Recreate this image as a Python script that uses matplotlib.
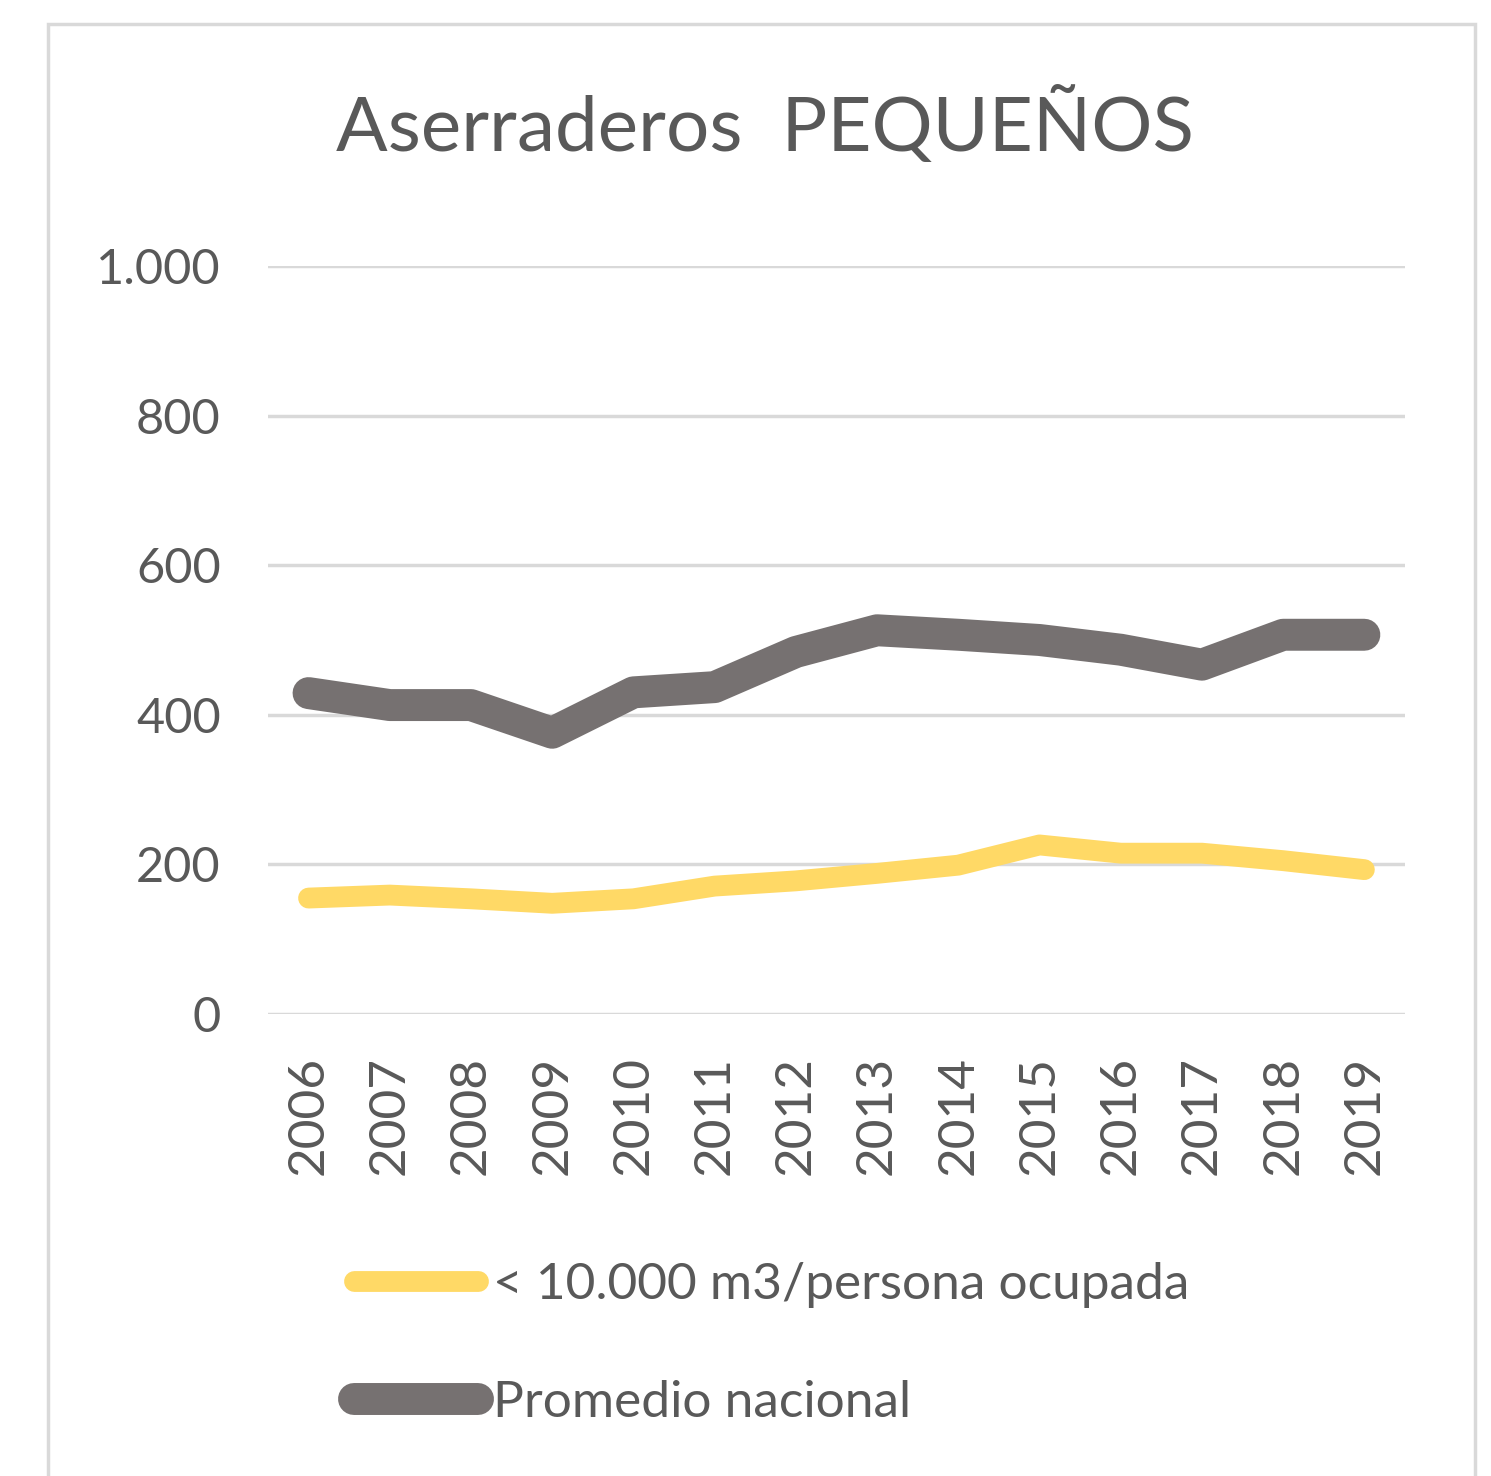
import matplotlib.pyplot as plt
from matplotlib.lines import Line2D
from matplotlib.patches import Rectangle

plt.rcParams['font.family'] = ['Lato', 'DejaVu Sans']

# datos
anios = ['2006', '2007', '2008', '2009', '2010', '2011', '2012',
         '2013', '2014', '2015', '2016', '2017', '2018', '2019']
pequenos = [155, 159, 154, 148, 154, 171, 178, 188, 199, 226, 215, 215, 205, 193]
promedio = [429, 413, 413, 376, 430, 437, 484, 513, 507, 500, 487, 467, 507, 507]

gris_texto = '#595959'
amarillo = '#FFD966'
gris_linea = '#767171'

fig = plt.figure(figsize=(14.91, 14.76), dpi=100)
ax = fig.add_axes([0.1797, 0.313, 0.7626, 0.5068])

x = range(len(anios))
ax.plot(x, pequenos, color=amarillo, lw=15, solid_capstyle='round',
        solid_joinstyle='round', label='< 10.000 m3/persona ocupada', zorder=3)
ax.plot(x, promedio, color=gris_linea, lw=23, solid_capstyle='round',
        solid_joinstyle='round', label='Promedio nacional', zorder=3)

ax.set_xlim(-0.5, len(anios) - 0.5)
ax.set_ylim(0, 1000)
ax.set_yticks([0, 200, 400, 600, 800, 1000])
ax.set_yticklabels(['0', '200', '400', '600', '800', '1.000'])
ax.set_xticks(list(x))
ax.set_xticklabels(anios, rotation=90)
ax.grid(axis='y', color='#D9D9D9', lw=2.5)
ax.set_axisbelow(True)
for s in ax.spines.values():
    s.set_visible(False)
ax.tick_params(length=0, labelsize=35, colors=gris_texto)
ax.tick_params(axis='y', pad=34)
ax.tick_params(axis='x', pad=30, labelsize=37)

fig.text(0.513, 0.915, 'Aserraderos  PEQUEÑOS', ha='center', va='center',
         fontsize=55, color=gris_texto)

# marco del grafico
fig.patches.append(Rectangle((48 / 1491, -0.01), 1427 / 1491, 1.002 - 12 / 1476,
                             transform=fig.transFigure, fill=False,
                             edgecolor='#D9D9D9', lw=2.5))

handles = [Line2D([], [], color=amarillo, lw=15, solid_capstyle='round'),
           Line2D([], [], color=gris_linea, lw=23, solid_capstyle='round')]
fig.legend(handles, ['< 10.000 m3/persona ocupada', 'Promedio nacional'],
           loc='upper left', bbox_to_anchor=(0.2066, 0.1765), frameon=False,
           fontsize=37, labelcolor=gris_texto, handlelength=2.4,
           handletextpad=0.3, labelspacing=1.4)

fig.savefig('out.png', dpi=100)
